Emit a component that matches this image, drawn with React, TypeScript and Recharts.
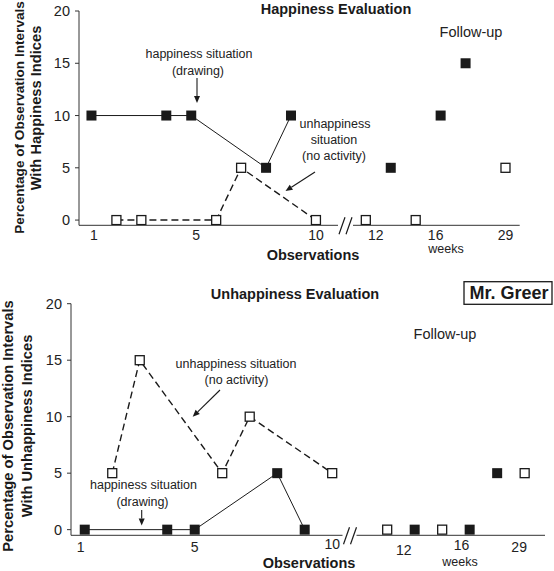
import { ComposedChart, Line, Scatter, XAxis, YAxis } from 'recharts';

const FONT = '"Liberation Sans", Arial, Helvetica, sans-serif';
const INK = '#1a1a1a';

// axis ticks
const yTicks = [0, 5, 10, 15, 20];
const xTickLabels = ['1', '5', '10', '12', '16', '29'];
const topTickSpots = [1.1, 5.2, 10, 12.4, 14.8, 17.6];
const bottomTickSpots = [0.85, 5, 10, 12.6, 14.7, 16.8];

// Happiness evaluation (top panel)
const hapDrawObs = [1, 4, 5, 8, 9];
const hapDrawPct = [10, 10, 10, 5, 10];
const hapNoActObs = [2, 3, 6, 7, 10];
const hapNoActPct = [0, 0, 0, 5, 0];
const hapFollowDrawObs = [13, 15, 16];
const hapFollowDrawPct = [5, 10, 15];
const hapFollowNoActObs = [12, 14, 17.6];
const hapFollowNoActPct = [0, 0, 5];

// Unhappiness evaluation (bottom panel)
const unhDrawObs = [1, 4, 5, 8, 9];
const unhDrawPct = [0, 0, 0, 5, 0];
const unhNoActObs = [2, 3, 6, 7, 10];
const unhNoActPct = [5, 15, 5, 10, 5];
const unhFollowDrawObs = [13, 15, 16];
const unhFollowDrawPct = [0, 0, 5];
const unhFollowNoActObs = [12, 14, 17];
const unhFollowNoActPct = [0, 0, 5];

const pts = (xs: number[], ys: number[]) => xs.map((x, i) => ({ x, y: ys[i] }));

const filledSquare = (p: any) => (
  <rect key={`f${p.index}`} x={p.cx - 5} y={p.cy - 5} width={10} height={10} fill={INK} />
);
const openSquare = (p: any) => (
  <rect key={`o${p.index}`} x={p.cx - 4.5} y={p.cy - 4.5} width={9} height={9} fill="#fff" stroke={INK} strokeWidth={1.3} />
);

interface PanelProps {
  top: number;
  height: number;
  yAxisWidth: number;
  marginTop: number;
  marginRight: number;
  xAxisHeight: number;
  xMax: number;
  tickSpots: number[];
  tickGap: number;
  tickNudge: Record<string, number>;
  draw: { x: number; y: number }[];
  noAct: { x: number; y: number }[];
  followDraw: { x: number; y: number }[];
  followNoAct: { x: number; y: number }[];
}

function Panel(p: PanelProps) {
  const renderXTick = (t: any) => {
    const label = xTickLabels[p.tickSpots.indexOf(t.payload.value)];
    return (
      <text x={t.x} y={t.y + (p.tickNudge[label] || 0)} dy="0.71em" textAnchor="middle"
        fontSize={14} fill="#222" fontFamily={FONT}>
        {label}
      </text>
    );
  };

  return (
    <div style={{ position: 'absolute', left: 0, top: p.top }}>
      <ComposedChart width={554} height={p.height}
        margin={{ top: p.marginTop, right: p.marginRight, bottom: 0, left: 0 }}>
        <XAxis type="number" dataKey="x" domain={[0.5, p.xMax]} allowDataOverflow
          ticks={p.tickSpots} interval={0} height={p.xAxisHeight}
          tickSize={0} tickMargin={p.tickGap} tickLine={false}
          axisLine={{ stroke: '#333' }} tick={renderXTick} />
        <YAxis type="number" domain={[-0.5, 20]} allowDataOverflow ticks={yTicks} interval={0}
          width={p.yAxisWidth} tickSize={4} tickMargin={5}
          axisLine={{ stroke: '#333' }} tickLine={{ stroke: '#333' }}
          tick={{ fill: '#222', fontSize: 14.5, fontFamily: FONT }} />
        <Line data={p.noAct} dataKey="y" stroke={INK} strokeWidth={1.4} strokeDasharray="7 4"
          dot={openSquare} activeDot={false} isAnimationActive={false} />
        <Line data={p.draw} dataKey="y" stroke={INK} strokeWidth={1}
          dot={filledSquare} activeDot={false} isAnimationActive={false} />
        <Scatter data={p.followNoAct} dataKey="y" shape={openSquare} isAnimationActive={false} />
        <Scatter data={p.followDraw} dataKey="y" shape={filledSquare} isAnimationActive={false} />
      </ComposedChart>
    </div>
  );
}

function Arrow({ x1, y1, x2, y2 }: { x1: number; y1: number; x2: number; y2: number }) {
  const a = Math.atan2(y2 - y1, x2 - x1);
  const len = 7;
  const half = 3;
  const bx = x2 - len * Math.cos(a);
  const by = y2 - len * Math.sin(a);
  const px = -Math.sin(a) * half;
  const py = Math.cos(a) * half;
  return (
    <g>
      <line x1={x1} y1={y1} x2={bx} y2={by} stroke={INK} strokeWidth={1.1} />
      <polygon points={`${x2},${y2} ${bx + px},${by + py} ${bx - px},${by - py}`} fill={INK} />
    </g>
  );
}

function AxisBreak({ x, y, gap }: { x: number; y: number; gap: number }) {
  return (
    <g>
      <rect x={x} y={y - 2.5} width={gap} height={5} fill="#fff" />
      <line x1={x + 1} y1={y + 9} x2={x + 7} y2={y - 8} stroke={INK} strokeWidth={1.2} />
      <line x1={x + 8} y1={y + 9} x2={x + 14} y2={y - 8} stroke={INK} strokeWidth={1.2} />
    </g>
  );
}

function Notes() {
  const note = { fontSize: 12.5, fill: '#222', textAnchor: 'middle' as const, fontFamily: FONT };
  const bold = { fontSize: 14.5, fill: INK, fontWeight: 700, textAnchor: 'middle' as const, fontFamily: FONT };
  const axisTitle = { ...bold, fontSize: 14.7 };
  return (
    <svg width={554} height={571} style={{ position: 'absolute', left: 0, top: 0, pointerEvents: 'none' }}>
      {/* top panel */}
      <text x={336} y={13.5} {...bold}>Happiness Evaluation</text>
      <text x={471} y={37} {...note} fontSize={14.5}>Follow-up</text>
      <text x={199} y={57.5} {...note}>happiness situation</text>
      <text x={198} y={75} {...note}>(drawing)</text>
      <Arrow x1={197} y1={78} x2={197} y2={103} />
      <text x={335} y={128} {...note}>unhappiness</text>
      <text x={334} y={144} {...note}>situation</text>
      <text x={334} y={160} {...note}>(no activity)</text>
      <Arrow x1={315} y1={172} x2={285.5} y2={191} />
      <AxisBreak x={338} y={225.3} gap={15} />
      <text x={313} y={260} {...bold}>Observations</text>
      <text x={446} y={253} {...note}>weeks</text>
      <text x={23.8} y={117.5} transform="rotate(-90 23.8 117.5)" {...axisTitle} fontSize={13.6}>Percentage of Observation Intervals</text>
      <text x={40.5} y={108} transform="rotate(-90 40.5 108)" {...axisTitle}>With Happiness Indices</text>

      {/* bottom panel */}
      <text x={295} y={298.5} {...bold}>Unhappiness Evaluation</text>
      <rect x={464} y={281.7} width={88} height={22.6} fill="#fff" stroke={INK} strokeWidth={1.3} />
      <text x={509} y={299} {...bold} fontSize={18}>Mr. Greer</text>
      <text x={445} y={338.5} {...note} fontSize={14.5}>Follow-up</text>
      <text x={236} y={367.5} {...note}>unhappiness situation</text>
      <text x={236.5} y={383.5} {...note}>(no activity)</text>
      <Arrow x1={220} y1={390} x2={192.7} y2={416.7} />
      <text x={143.5} y={489} {...note}>happiness situation</text>
      <text x={142.5} y={506} {...note}>(drawing)</text>
      <Arrow x1={141.7} y1={510} x2={141.7} y2={525.5} />
      <AxisBreak x={342.5} y={535.3} gap={14} />
      <text x={309} y={568} {...bold}>Observations</text>
      <text x={460} y={566} {...note}>weeks</text>
      <text x={12.5} y={426} transform="rotate(-90 12.5 426)" {...axisTitle}>Percentage of Observation Intervals</text>
      <text x={31.5} y={426} transform="rotate(-90 31.5 426)" {...axisTitle}>With Unhappiness Indices</text>
    </svg>
  );
}

export default function App() {
  return (
    <div style={{ position: 'absolute', left: 0, top: 0, width: 554, height: 571, background: '#fff', fontFamily: FONT }}>
      <Panel top={0} height={270} yAxisWidth={79} marginTop={11} marginRight={34.3} xAxisHeight={44.7}
        xMax={18.17} tickSpots={topTickSpots} tickGap={5} tickNudge={{}}
        draw={pts(hapDrawObs, hapDrawPct)} noAct={pts(hapNoActObs, hapNoActPct)}
        followDraw={pts(hapFollowDrawObs, hapFollowDrawPct)}
        followNoAct={pts(hapFollowNoActObs, hapFollowNoActPct)} />
      <Panel top={280} height={291} yAxisWidth={71} marginTop={23.7} marginRight={9} xAxisHeight={35.7}
        xMax={17.74} tickSpots={bottomTickSpots} tickGap={7} tickNudge={{ '10': -3, '12': 3, '16': -2 }}
        draw={pts(unhDrawObs, unhDrawPct)} noAct={pts(unhNoActObs, unhNoActPct)}
        followDraw={pts(unhFollowDrawObs, unhFollowDrawPct)}
        followNoAct={pts(unhFollowNoActObs, unhFollowNoActPct)} />
      <Notes />
    </div>
  );
}
